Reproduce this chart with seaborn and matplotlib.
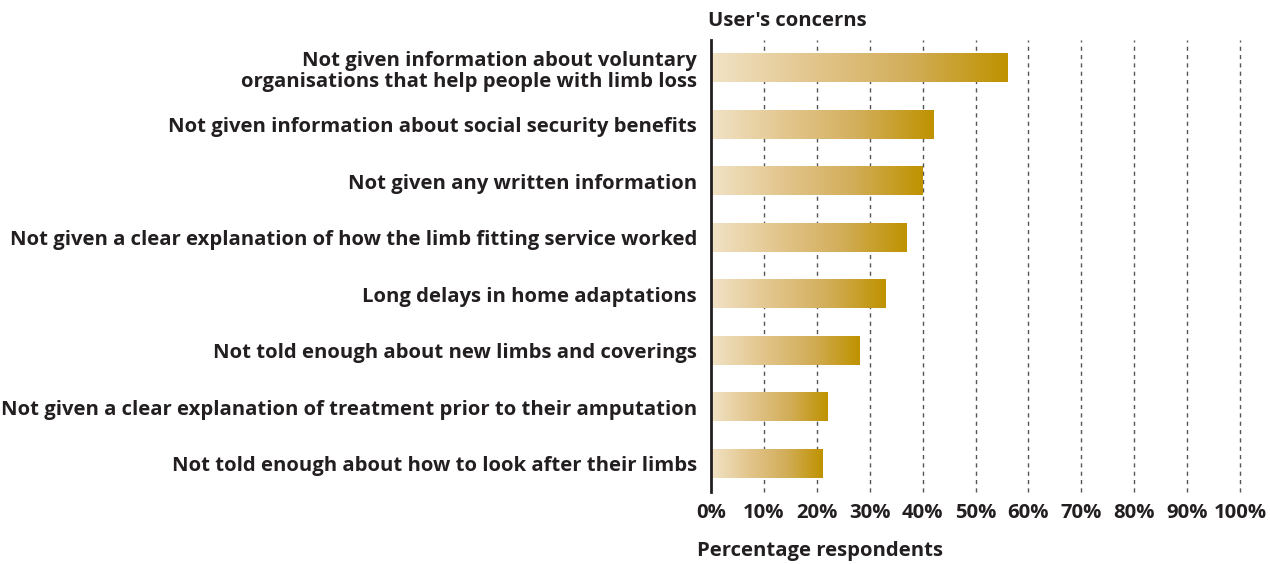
import numpy as np
import pandas as pd
import matplotlib
matplotlib.use("Agg")
import matplotlib.pyplot as plt
from matplotlib.colors import LinearSegmentedColormap
import seaborn as sns

concerns = [
    "Not given information about voluntary\norganisations that help people with limb loss",
    "Not given information about social security benefits",
    "Not given any written information",
    "Not given a clear explanation of how the limb fitting service worked",
    "Long delays in home adaptations",
    "Not told enough about new limbs and coverings",
    "Not given a clear explanation of treatment prior to their amputation",
    "Not told enough about how to look after their limbs",
]
percent = [56, 42, 40, 37, 33, 28, 22, 21]
tick_values = list(range(0, 101, 10))
tick_labels = [f"{v}%" for v in tick_values]

df = pd.DataFrame({"concern": concerns, "percent": percent})

sns.set_theme(style="white")
plt.rcParams["font.family"] = ["Open Sans", "DejaVu Sans"]
text_color = "#231f20"
fs = 14.6

fig = plt.figure(figsize=(12.7, 5.64), dpi=100)
ax = fig.add_axes([711 / 1270, 1 - 492 / 564, 529 / 1270, 452 / 564])

sns.barplot(data=df, x="percent", y="concern", orient="h", ax=ax,
            width=0.5, color="#c9a040", zorder=3)

# horizontal gold gradient inside every bar
gold = LinearSegmentedColormap.from_list(
    "gold", ["#f1e3c6", "#e3c68e", "#d2ae5a", "#bf9200"])
grad = np.linspace(0, 1, 256).reshape(1, -1)
for patch in ax.patches:
    x0, y0 = patch.get_x(), patch.get_y()
    w, h = patch.get_width(), patch.get_height()
    ax.imshow(grad, cmap=gold, aspect="auto", zorder=3,
              extent=[x0, x0 + w, y0 + h, y0], interpolation="bilinear")
    patch.set_facecolor("none")
    patch.set_edgecolor("none")

ax.set_xlim(0, 100)
ax.set_ylim(len(concerns) - 0.5, -0.5)

ax.set_xticks(tick_values)
ax.set_xticklabels(tick_labels, fontsize=fs, fontweight="bold", color=text_color)
ax.tick_params(axis="x", length=0, pad=8)
ax.tick_params(axis="y", length=0, pad=10)
for lbl in ax.get_yticklabels():
    lbl.set_fontsize(fs)
    lbl.set_fontweight("bold")
    lbl.set_color(text_color)
    lbl.set_horizontalalignment("right")
    lbl.set_multialignment("right")
    lbl.set_linespacing(1.1)

for v in tick_values[1:]:
    ax.axvline(v, color="#555555", linestyle=(0, (3, 3)), linewidth=1.0,
               zorder=1, clip_on=False)

for side in ["top", "right", "bottom"]:
    ax.spines[side].set_visible(False)
ax.spines["left"].set_color(text_color)
ax.spines["left"].set_linewidth(2)
ax.spines["left"].set_zorder(4)

ax.set_xlabel("")
ax.set_ylabel("")

fig.text(708 / 1270, 1 - 21 / 564, "User's concerns", fontsize=fs,
         fontweight="bold", color=text_color, ha="left", va="center")
fig.text(697 / 1270, 1 - 551 / 564, "Percentage respondents", fontsize=fs,
         fontweight="bold", color=text_color, ha="left", va="center")

fig.savefig("out.png", dpi=100)
